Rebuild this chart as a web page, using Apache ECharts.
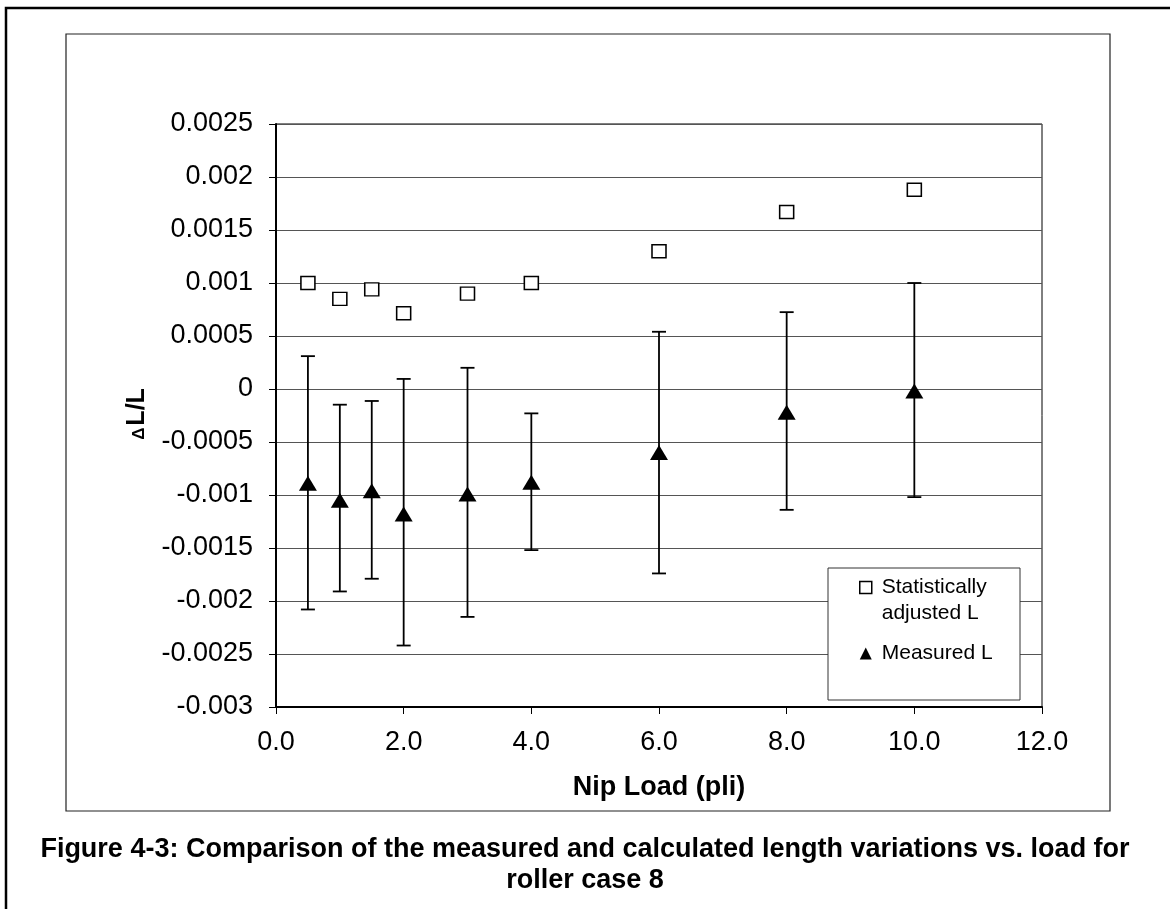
<!DOCTYPE html>
<html>
<head>
<meta charset="utf-8">
<script src="https://cdn.jsdelivr.net/npm/echarts@6/dist/echarts.min.js"></script>
<style>
html,body{margin:0;padding:0;background:#fff;}
#chart{width:1170px;height:909px;}
</style>
</head>
<body>
<div id="chart"></div>
<script>
// Data
const loads = [0.5, 1.0, 1.5, 2.0, 3.0, 4.0, 6.0, 8.0, 10.0];
const adjustedL = [0.001, 0.00085, 0.00094, 0.000715, 0.0009, 0.001, 0.0013, 0.00167, 0.00188];
const measuredL = [-0.00089, -0.00105, -0.00096, -0.00118, -0.00099, -0.00088, -0.0006, -0.00022, -0.00002];
const errHigh = [0.00031, -0.000148, -0.000113, 0.000095, 0.0002, -0.00023, 0.00054, 0.000725, 0.001];
const errLow = [-0.00208, -0.00191, -0.00179, -0.00242, -0.00215, -0.00152, -0.00174, -0.00114, -0.00102];
const seriesNames = ['Statistically adjusted L', 'Measured L'];
const legendLines = {
  'Statistically adjusted L': ['Statistically', 'adjusted L'],
  'Measured L': ['Measured L']
};
const xTitle = 'Nip Load (pli)';
const captionLines = [
  'Figure 4-3: Comparison of the measured and calculated length variations vs. load for',
  'roller case 8'
];

const FONT = '"Liberation Sans", Arial, Helvetica, sans-serif';

const adjustedData = loads.map((x, i) => [x, adjustedL[i]]);
const measuredData = loads.map((x, i) => [x, measuredL[i]]);
const errData = loads.map((x, i) => [x, errLow[i], errHigh[i]]);

const chart = echarts.init(document.getElementById('chart'), null, {renderer: 'canvas'});

const option = {
  backgroundColor: '#fff',
  animation: false,
  grid: {
    left: 276, right: 128, top: 124, bottom: 202,
    show: true, borderColor: '#000', borderWidth: 1, backgroundColor: 'transparent'
  },
  xAxis: {
    type: 'value', min: 0, max: 12, interval: 2,
    axisLine: {show: true, onZero: false, lineStyle: {color: '#000', width: 2}},
    axisTick: {show: true, inside: false, length: 7, lineStyle: {color: '#000', width: 1}},
    axisLabel: {color: '#000', fontSize: 27, fontFamily: FONT, margin: 22,
      formatter: v => v.toFixed(1)},
    splitLine: {show: false}
  },
  yAxis: {
    type: 'value', min: -0.003, max: 0.0025, interval: 0.0005,
    axisLine: {show: true, onZero: false, lineStyle: {color: '#000', width: 2}},
    axisTick: {show: true, inside: false, length: 7, lineStyle: {color: '#000', width: 1}},
    axisLabel: {color: '#000', fontSize: 27, fontFamily: FONT, margin: 23,
      formatter: v => {
        const r = Math.round(v * 10000) / 10000;
        return String(r);
      }},
    splitLine: {show: true, lineStyle: {color: '#555', width: 1}}
  },
  legend: {
    orient: 'vertical',
    left: 859, top: 551,
    padding: 0,
    itemGap: 19,
    itemWidth: 12, itemHeight: 12,
    selectedMode: false,
    formatter: function (name) {
      const lines = legendLines[name];
      if (lines.length > 1) {
        return ['{a| }'].concat(lines.map(l => '{a|' + l + '}')).join('\n');
      }
      return '{a|' + lines[0] + '}';
    },
    textStyle: {color: '#000', fontSize: 21, fontFamily: FONT,
      rich: {a: {fontSize: 21, fontFamily: FONT, color: '#000', lineHeight: 26, padding: [0, 0, 0, 5]}}},
    data: [
      {name: seriesNames[0], icon: 'rect',
        itemStyle: {color: '#fff', borderColor: '#000', borderWidth: 1.5}},
      {name: seriesNames[1], icon: 'triangle',
        itemStyle: {color: '#000', borderWidth: 0}}
    ]
  },
  graphic: [
    {type: 'rect', z: -10, silent: true,
      shape: {x: 6, y: 8, width: 1220, height: 960},
      style: {fill: 'none', stroke: '#000', lineWidth: 2.5}},
    {type: 'rect', z: -10, silent: true,
      shape: {x: 66, y: 34, width: 1044, height: 777},
      style: {fill: 'none', stroke: '#222', lineWidth: 1.2}},
    {type: 'rect', z: 3, silent: true,
      shape: {x: 828, y: 568, width: 192, height: 132},
      style: {fill: '#fff', stroke: '#333', lineWidth: 1}},
    {type: 'text', silent: true, x: 659, y: 788,
      style: {text: xTitle, font: 'bold 27px ' + FONT, fill: '#000',
        textAlign: 'center', textVerticalAlign: 'middle'}},
    {type: 'text', silent: true, x: 137, y: 414, rotation: Math.PI / 2,
      style: {text: '{d|Δ}{l|L/L}', fill: '#000', textAlign: 'center', textVerticalAlign: 'middle',
        rich: {
          d: {fontSize: 17, fontWeight: 'bold', fontFamily: FONT, fill: '#000', padding: [4, 2, 0, 0]},
          l: {fontSize: 25, fontWeight: 'bold', fontFamily: FONT, fill: '#000'}
        }}},
    {type: 'text', silent: true, x: 585, y: 850,
      style: {text: captionLines[0], font: 'bold 27px ' + FONT, fill: '#000',
        textAlign: 'center', textVerticalAlign: 'middle'}},
    {type: 'text', silent: true, x: 585, y: 881,
      style: {text: captionLines[1], font: 'bold 27px ' + FONT, fill: '#000',
        textAlign: 'center', textVerticalAlign: 'middle'}}
  ],
  series: [
    {
      name: seriesNames[0], type: 'scatter', data: adjustedData, z: 4,
      symbol: 'rect', symbolSize: [14, 13],
      itemStyle: {color: '#fff', borderColor: '#000', borderWidth: 1.5, opacity: 1}
    },
    {
      name: seriesNames[1], type: 'scatter', data: measuredData, z: 5,
      symbol: 'triangle', symbolSize: [18, 15],
      itemStyle: {color: '#000', opacity: 1}
    },
    {
      name: 'errorbars', type: 'custom', data: errData, z: 3,
      encode: {x: 0, y: [1, 2]},
      renderItem: function (params, api) {
        const x = api.value(0);
        const lo = api.coord([x, api.value(1)]);
        const hi = api.coord([x, api.value(2)]);
        const hw = 7;
        const st = {stroke: '#000', lineWidth: 1.8};
        return {
          type: 'group',
          children: [
            {type: 'line', shape: {x1: lo[0], y1: lo[1], x2: hi[0], y2: hi[1]}, style: st},
            {type: 'line', shape: {x1: hi[0] - hw, y1: hi[1], x2: hi[0] + hw, y2: hi[1]}, style: st},
            {type: 'line', shape: {x1: lo[0] - hw, y1: lo[1], x2: lo[0] + hw, y2: lo[1]}, style: st}
          ]
        };
      }
    }
  ]
};
chart.setOption(option);
</script>
</body>
</html>
